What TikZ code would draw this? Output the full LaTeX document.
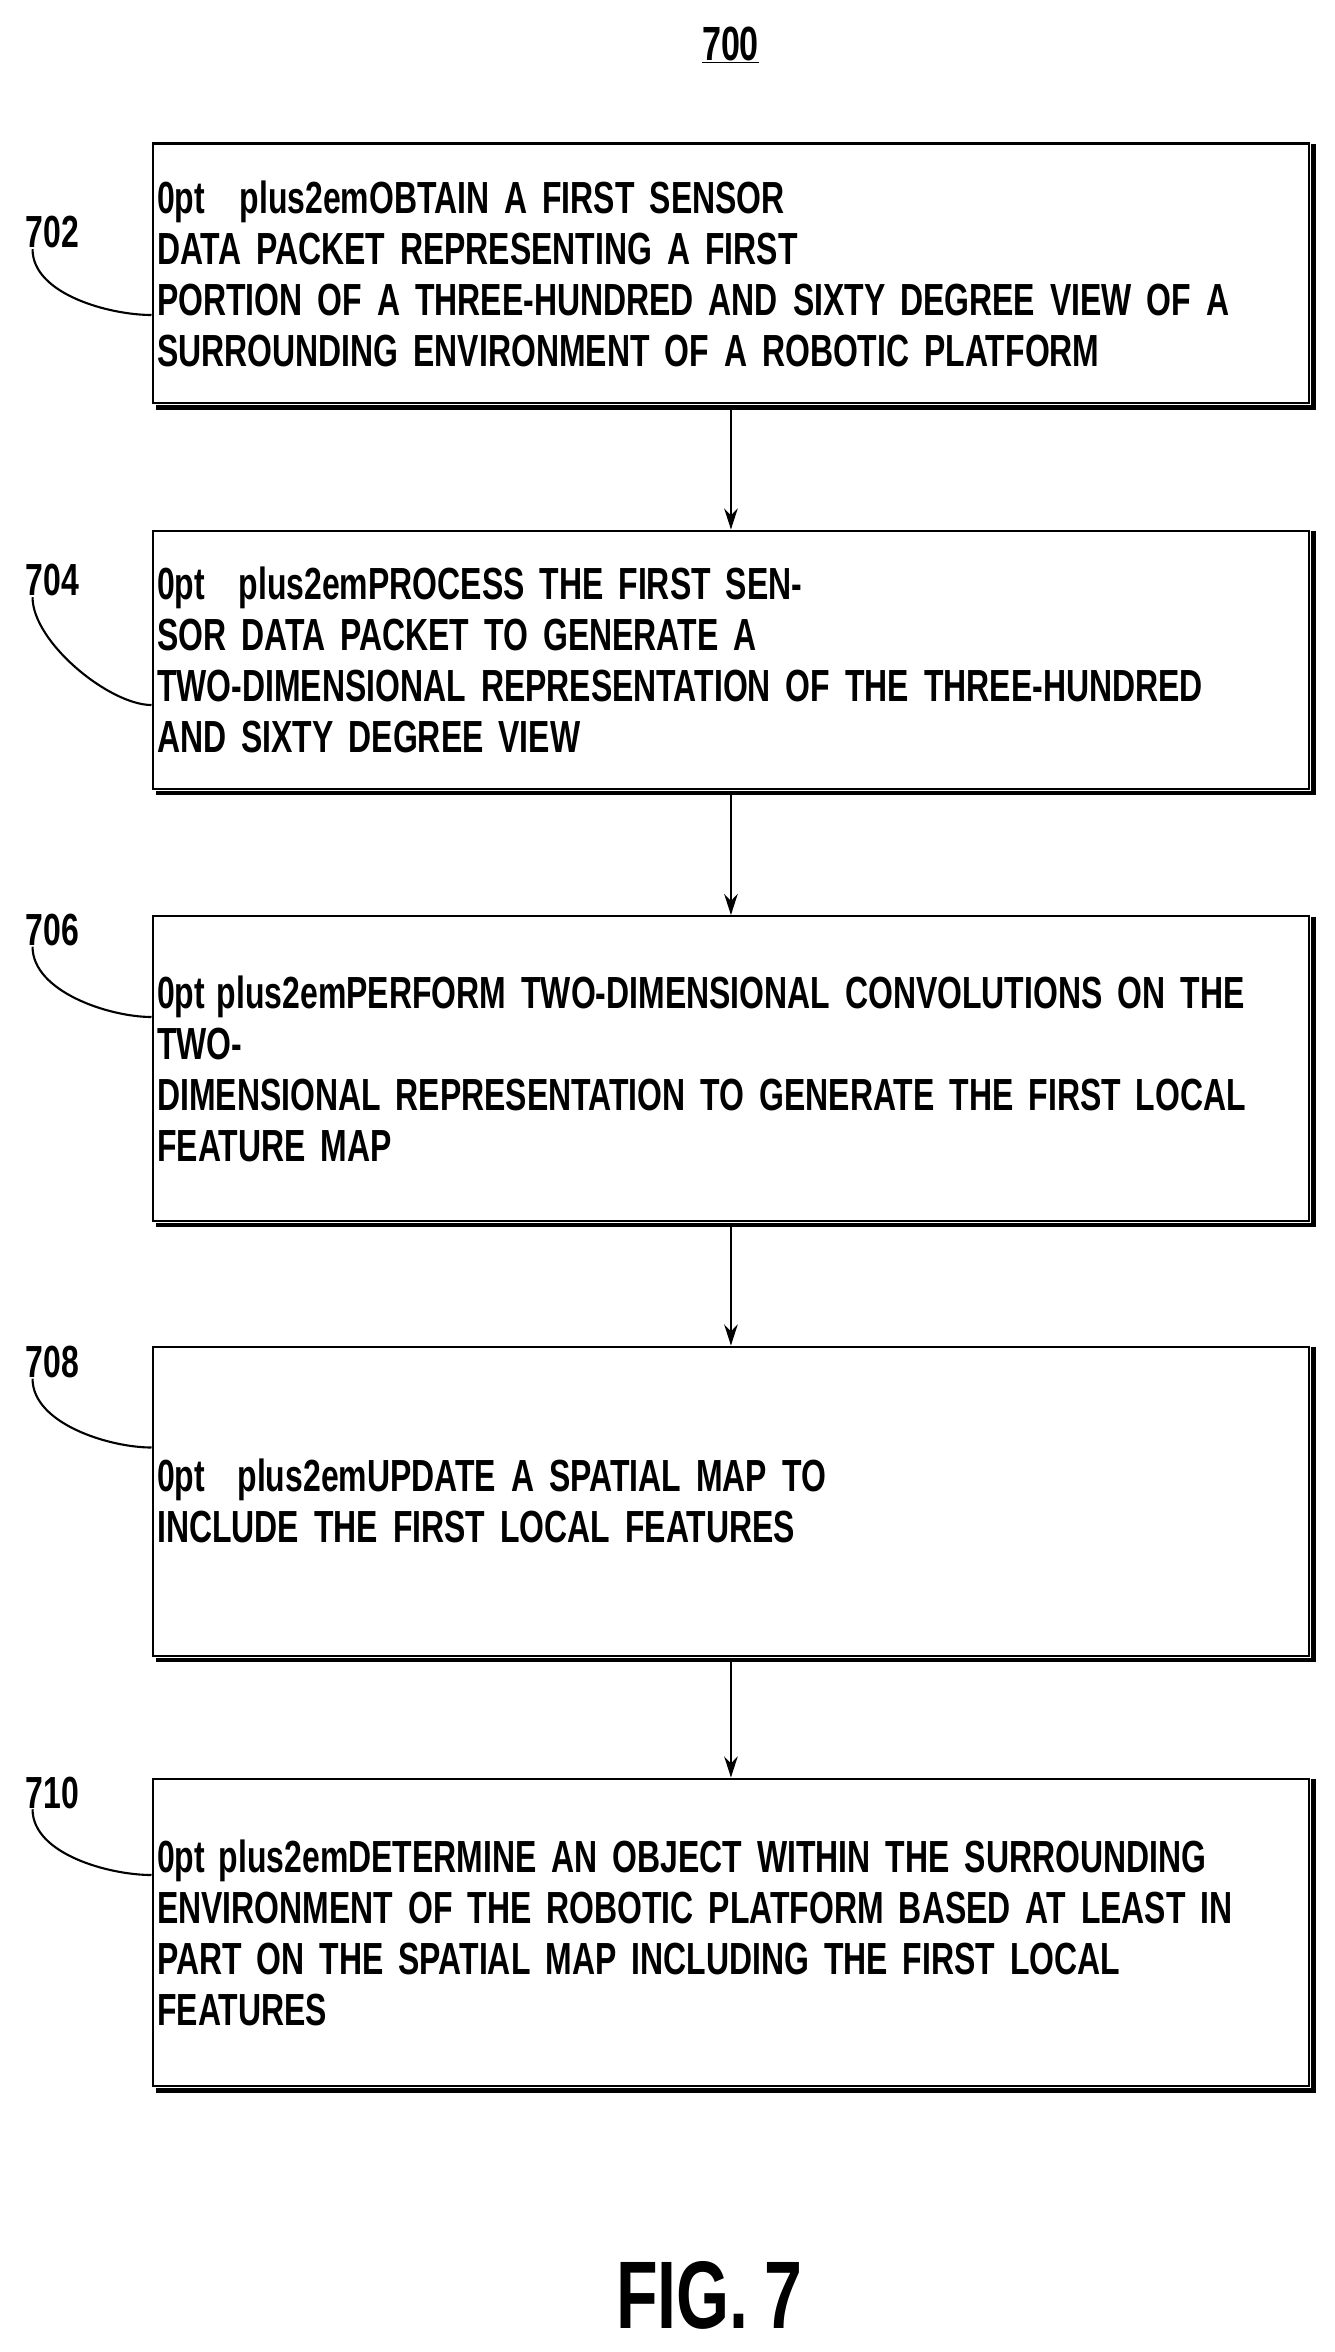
\documentclass[tikz,border=0pt]{standalone}
\usepackage{fontspec}
\setmainfont{Liberation Sans}[FakeStretch=0.71,BoldFont={Liberation Sans Bold}]
\usetikzlibrary{arrows.meta}
\begin{document}
\begin{tikzpicture}[x=1pt,y=-1pt,
  box/.style={draw,line width=1.6pt,minimum width=771pt,text width=765pt,align=center,anchor=north west,inner sep=0pt,font=\bfseries\fontsize{30}{34}\selectfont\hyphenpenalty=10000\exhyphenpenalty=10000},
  lbl/.style={font=\bfseries\fontsize{30}{34}\selectfont},
  arr/.style={line width=1.4pt,-{Stealth[length=14pt,width=9pt]}},
  lead/.style={line width=1.4pt}]
\useasboundingbox (0,0) rectangle (890,1568);
\node[font=\bfseries\fontsize{32}{36}\selectfont] (t) at (487,30) {\underline{700}};
\def\mk#1#2#3#4{%
  \node[box,minimum height=#3pt] (#1) at (101,#2) {#4};
  \draw[line width=3.2pt] ([xshift=2pt,yshift=-1pt]#1.north east) -- ([xshift=2pt,yshift=-2pt]#1.south east) -- ([xshift=3pt,yshift=-2pt]#1.south west);}
\mk{b1}{95}{173}{OBTAIN A FIRST SENSOR DATA PACKET REPRESENTING A FIRST\\ PORTION OF A THREE-HUNDRED AND SIXTY DEGREE VIEW OF A\\ SURROUNDING ENVIRONMENT OF A ROBOTIC PLATFORM}
\mk{b2}{353}{172}{PROCESS THE FIRST SENSOR DATA PACKET TO GENERATE A\\ TWO-DIMENSIONAL REPRESENTATION OF THE THREE-HUNDRED\\ AND SIXTY DEGREE VIEW}
\mk{b3}{610}{203}{PERFORM TWO-DIMENSIONAL CONVOLUTIONS ON THE TWO-\\ DIMENSIONAL REPRESENTATION TO GENERATE THE FIRST LOCAL\\ FEATURE MAP}
\mk{b4}{897}{206}{UPDATE A SPATIAL MAP TO INCLUDE THE FIRST LOCAL FEATURES}
\mk{b5}{1185}{205}{DETERMINE AN OBJECT WITHIN THE SURROUNDING\\ ENVIRONMENT OF THE ROBOTIC PLATFORM BASED AT LEAST IN\\ PART ON THE SPATIAL MAP INCLUDING THE FIRST LOCAL\\ FEATURES}
\foreach \a/\b in {b1/b2,b2/b3,b3/b4,b4/b5}
  \draw[arr] ([yshift=-2pt]\a.south) -- (\b.north);
\foreach \b/\n/\y/\yy in {b1/702/155/210,b2/704/387/470,b3/706/620/678,b4/708/908/965,b5/710/1195/1250}{
  \node[lbl] (l\n) at (35,\y) {\n};
  \coordinate (e\n) at (101,\yy);
  \draw[lead] ([xshift=8pt,yshift=3pt]l\n.south west) .. controls +(0,30) and +(-28,0) .. (e\n);
}
\node[font=\bfseries\fontsize{64}{70}\selectfont] (fig) at (473,1530) {FIG.\,7};
\end{tikzpicture}
\end{document}
